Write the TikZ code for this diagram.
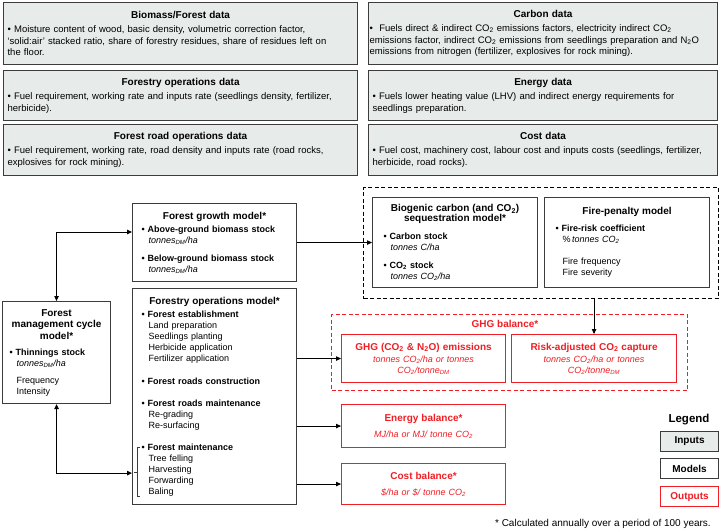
\documentclass[tikz,border=0pt]{standalone}
\usepackage{fontspec}
\setmainfont{Liberation Sans}
\usetikzlibrary{arrows.meta, calc}
\definecolor{inputfill}{RGB}{231, 235, 233}
\definecolor{edgegray}{RGB}{60, 60, 60}
\definecolor{outred}{RGB}{240, 30, 36}
\newcommand{\hd}[1]{\makebox[\linewidth][c]{\fontsize{10}{12}\selectfont\textbf{#1}}}
\newcommand{\cotwo}{CO\textsubscript{2}}
\newcommand{\tdm}{\textit{tonnes\textsubscript{DM}/ha}}
\newcommand{\indt}{\hspace*{7pt}}

\begin{document}
\begin{tikzpicture}[x=1pt, y=-1pt,
  inbox/.style={draw=edgegray, fill=inputfill, line width=1.2pt, anchor=north west,
                inner sep=0pt, align=left, font=\fontsize{9.5}{11.8}\selectfont},
  modbox/.style={draw=edgegray, fill=white, line width=1.1pt, anchor=north west,
                 inner sep=0pt, align=left, font=\fontsize{9}{11}\selectfont},
  outbox/.style={draw=outred, fill=white, line width=1.1pt, anchor=north west, text=outred,
                 inner sep=0pt, align=center, font=\fontsize{9}{11}\selectfont},
  grpbox/.style={line width=1.1pt, anchor=north west, inner sep=0pt,
                 dash pattern=on 4pt off 2.5pt},
  legbox/.style={line width=1.1pt, anchor=north west, inner sep=0pt,
                 minimum width=58pt, minimum height=20pt, font=\fontsize{10}{12}\selectfont\bfseries},
  arr/.style={-{Triangle[length=5pt, width=4.5pt]}, line width=1pt},
  arrr/.style={{Triangle[length=5pt, width=4.5pt]}-{Triangle[length=5pt, width=4.5pt]}, line width=1pt},
]
\useasboundingbox (0, 0) rectangle (720, 531);

% Inputs
\node[inbox, minimum width=354pt, minimum height=62pt, text width=346pt] (biodata) at (3, 2)
{\hd{Biomass/Forest data}\\[2pt]
• Moisture content of wood, basic density, volumetric correction factor,\\
`solid:air' stacked ratio, share of forestry residues, share of residues left on\\
the floor.};
\node[inbox, minimum width=354pt, minimum height=50pt, text width=346pt] (fordata) at (3, 70)
{\hd{Forestry operations data}\\[2pt]
• Fuel requirement, working rate and inputs rate (seedlings density, fertilizer,\\
herbicide).};
\node[inbox, minimum width=354pt, minimum height=51pt, text width=346pt] (roaddata) at (3, 124)
{\hd{Forest road operations data}\\[2pt]
• Fuel requirement, working rate, road density and inputs rate (road rocks,\\
explosives for rock mining).};
\node[inbox, minimum width=349pt, minimum height=62pt, text width=347pt] (carbdata) at (368, 2)
{\hd{Carbon data}\\[2pt]
•\ \ Fuels direct \& indirect \cotwo{} emissions factors, electricity indirect \cotwo\\
emissions factor, indirect \cotwo{} emissions from seedlings preparation and N\textsubscript{2}O\\
emissions from nitrogen (fertilizer, explosives for rock mining).};
\node[inbox, minimum width=349pt, minimum height=50pt, text width=341pt] (enerdata) at (368, 70)
{\hd{Energy data}\\[2pt]
• Fuels lower heating value (LHV) and indirect energy requirements for\\
seedlings preparation.};
\node[inbox, minimum width=349pt, minimum height=51pt, text width=341pt] (costdata) at (368, 124)
{\hd{Cost data}\\[2pt]
• Fuel cost, machinery cost, labour cost and inputs costs (seedlings, fertilizer,\\
herbicide, road rocks).};

% Models
\node[modbox, minimum width=164pt, minimum height=78pt, text width=146pt] (growth) at (132, 203)
{\hd{Forest growth model*}\\[2pt]
\textbf{• Above-ground biomass stock}\\
\indt\tdm\\[7pt]
\textbf{• Below-ground biomass stock}\\
\indt\tdm};
\node[modbox, minimum width=164pt, minimum height=216pt, text width=146pt] (ops) at (132, 288)
{\hd{Forestry operations model*}\\[2pt]
\textbf{• Forest establishment}\\
\indt Land preparation\\
\indt Seedlings planting\\
\indt Herbicide application\\
\indt Fertilizer application\\[12pt]
\textbf{• Forest roads construction}\\[11pt]
\textbf{• Forest roads maintenance}\\
\indt Re-grading\\
\indt Re-surfacing\\[11pt]
\textbf{• Forest maintenance}\\
\indt Tree felling\\
\indt Harvesting\\
\indt Forwarding\\
\indt Baling};
\node[modbox, minimum width=108pt, minimum height=102pt, text width=94pt] (mgmt) at (2, 301)
{\hd{Forest}\\[0.5pt]
\hd{management cycle}\\[0.5pt]
\hd{model*}\\[5pt]
\textbf{• Thinnings stock}\\
\indt\tdm\\[6pt]
\indt Frequency\\
\indt Intensity};

% Bracket on forest maintenance
\draw[edgegray, line width=0.6pt] (140, 447) -- (137, 447) -- (137, 496) -- (140, 496)
  (137, 472) -- (134, 472);

% Carbon and fire group
\node[grpbox, draw=black, minimum width=355pt, minimum height=111pt] (seqgroup) at (363, 187) {};
\node[modbox, minimum width=165pt, minimum height=90pt, text width=143pt] (biog) at (372, 197)
{\hd{Biogenic carbon (and \cotwo)}\\[-1pt]
\hd{sequestration model*}\\[7pt]
\textbf{• Carbon stock}\\
\indt\textit{tonnes C/ha}\\[7pt]
\textbf{• \cotwo{} stock}\\
\indt\textit{tonnes \cotwo/ha}};
\node[modbox, minimum width=165pt, minimum height=90pt, text width=143pt] (fire) at (544, 197)
{\hd{Fire-penalty model}\\[6pt]
\textbf{• Fire-risk coefficient}\\
\indt\%\,\textit{tonnes \cotwo}\\[11pt]
\indt Fire frequency\\
\indt Fire severity};

% Outputs
\node[grpbox, draw=outred, minimum width=356pt, minimum height=76pt] (ghggroup) at (331, 314) {};
\node[text=outred, font=\fontsize{10}{12}\selectfont\bfseries] (ghgtitle) at (505, 324) {GHG balance*};
\node[outbox, minimum width=164pt, minimum height=48pt, text width=158pt] (ghge) at (341, 334)
{\textbf{\fontsize{10}{12}\selectfont GHG (\cotwo{} \& N\textsubscript{2}O) emissions}\\[1pt]
\textit{tonnes \cotwo/ha or tonnes}\\
\textit{\cotwo/tonne\textsubscript{DM}}};
\node[outbox, minimum width=165pt, minimum height=48pt, text width=158pt] (risk) at (511, 334)
{\textbf{\fontsize{10}{12}\selectfont Risk-adjusted \cotwo{} capture}\\[1pt]
\textit{tonnes \cotwo/ha or tonnes}\\
\textit{\cotwo/tonne\textsubscript{DM}}};
\node[outbox, minimum width=164pt, minimum height=43pt, text width=158pt] (energy) at (341, 404)
{\textbf{\fontsize{10}{12}\selectfont Energy balance*}\\[5pt]
\textit{MJ/ha or MJ/ tonne \cotwo}};
\node[outbox, minimum width=164pt, minimum height=41pt, text width=158pt] (costb) at (341, 463)
{\textbf{\fontsize{10}{12}\selectfont Cost balance*}\\[5pt]
\textit{\$/ha or \$/ tonne \cotwo}};

% Arrows
\draw[arrr] (mgmt.north) |- ([yshift=-29pt]growth.north west);
\draw[arrr] (mgmt.south) |- ([yshift=32pt]ops.south west);
\draw[arr] (growth.east) -- (biog.west);
\draw[arr] (risk.north |- seqgroup.south) -- (risk.north);
\draw[arr] (ops.east |- ghge.west) -- (ghge.west);
\draw[arr] (ops.east |- energy.west) -- (energy.west);
\draw[arr] (ops.east |- costb.west) -- (costb.west);

% Legend
\node[font=\fontsize{11.5}{13}\selectfont\bfseries] (legtitle) at (689, 420) {Legend};
\node[legbox, draw=edgegray, fill=inputfill] (leginp) at (660, 431) {Inputs};
\node[legbox, draw=edgegray, fill=white] (legmod) at (660, 458) {Models};
\node[legbox, draw=outred, fill=white, text=outred] (legout) at (660, 486) {Outputs};

% Footnote
\node[anchor=east, font=\fontsize{10}{12}\selectfont, inner sep=0pt] (foot) at (711, 524)
{* Calculated annually over a period of 100 years.};
\end{tikzpicture}
\end{document}
